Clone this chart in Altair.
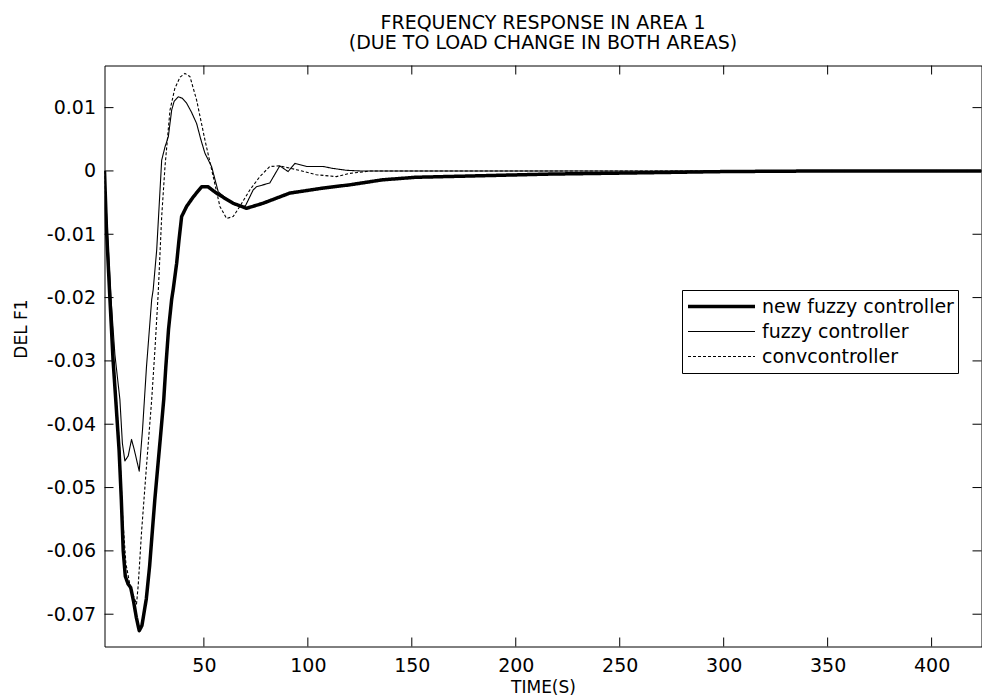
import altair as alt
import pandas as pd

# ---- data ----
series_names = ["new fuzzy controller", "fuzzy controller", "convcontroller"]

new_x = [2.2, 3.1, 4.7, 6.3, 7.6, 9.2, 10.3, 11.2, 12.2, 13.5, 14.8, 16.2, 17.5, 18.9,
         20.2, 22.3, 23.9, 26.4, 29.3, 30.7, 31.7, 33.0, 34.5, 35.2, 36.9, 38.0, 39.3,
         41.7, 44.9, 48.9, 52.0, 56.0, 64.0, 70.5, 78.5, 91.3, 107.4, 120.0, 136.0,
         152.0, 178.0, 216.0, 260.0, 300.0, 350.0, 424.0]
new_y = [0.0, -0.0088, -0.0195, -0.0298, -0.0361, -0.044, -0.052, -0.060, -0.064, -0.0652,
         -0.0658, -0.068, -0.0705, -0.0726, -0.0718, -0.0676, -0.0624, -0.0519, -0.0413,
         -0.0361, -0.0309, -0.025, -0.0203, -0.0188, -0.0146, -0.011, -0.0072, -0.0056,
         -0.0041, -0.0025, -0.0025, -0.0035, -0.0051, -0.0059, -0.0051, -0.0035, -0.0027,
         -0.0022, -0.0014, -0.0010, -0.0008, -0.0005, -0.0003, -0.0001, 0.0, 0.0]

fuzzy_x = [2.2, 3.5, 5.3, 7.2, 9.6, 10.8, 12.0, 13.6, 15.2, 16.5, 18.9, 20.5, 22.4, 24.9,
           25.6, 27.3, 29.7, 31.3, 32.9, 34.5, 35.7, 37.7, 39.5, 41.7, 44.0, 46.5, 48.5,
           50.5, 53.7, 56.9, 62.5, 68.1, 70.0, 73.7, 75.3, 81.7, 86.5, 90.5, 93.8, 99.4,
           107.4, 112.0, 118.6, 125.0, 424.0]
fuzzy_y = [0.0, -0.009, -0.020, -0.029, -0.0361, -0.043, -0.0458, -0.045, -0.0424, -0.044,
           -0.0474, -0.0408, -0.0309, -0.0203, -0.0188, -0.0125, 0.0017, 0.0038, 0.0054,
           0.0096, 0.0110, 0.0117, 0.0115, 0.0107, 0.0093, 0.0075, 0.0050, 0.0028, 0.0007,
           -0.0033, -0.0048, -0.0057, -0.0055, -0.0030, -0.0025, -0.0019, 0.0008, -0.0001,
           0.0012, 0.0007, 0.0007, 0.0004, 0.0001, 0.0, 0.0]

conv_x = [2.2, 3.2, 4.9, 6.6, 7.9, 9.5, 11.0, 12.5, 14.5, 16.0, 17.6, 18.4, 20.0, 22.4,
          24.9, 26.5, 28.0, 29.7, 31.3, 33.7, 36.0, 38.5, 40.9, 43.3, 46.5, 50.5, 54.5,
          57.7, 60.9, 64.1, 67.3, 72.1, 76.9, 81.7, 86.5, 94.5, 104.0, 113.7, 120.0,
          130.0, 424.0]
conv_y = [0.0, -0.009, -0.0195, -0.0298, -0.0361, -0.044, -0.055, -0.062, -0.0655, -0.067,
          -0.0684, -0.0655, -0.0571, -0.0466, -0.0361, -0.028, -0.0195, -0.0072, 0.0007,
          0.0096, 0.0130, 0.0148, 0.0154, 0.0149, 0.0112, 0.0049, -0.0009, -0.0056,
          -0.0075, -0.0072, -0.0056, -0.0030, -0.0009, 0.0007, 0.0008, 0.0002, -0.0006,
          -0.0009, -0.0004, 0.0, 0.0]

x_ticks = [50, 100, 150, 200, 250, 300, 350, 400]
y_ticks = [-0.07, -0.06, -0.05, -0.04, -0.03, -0.02, -0.01, 0.0, 0.01]

rows = []
for name, xs, ys in zip(series_names, [new_x, fuzzy_x, conv_x], [new_y, fuzzy_y, conv_y]):
    for i, (a, b) in enumerate(zip(xs, ys)):
        rows.append({"series": name, "t": a, "v": b, "order": i})
df = pd.DataFrame(rows)
df_xt = pd.DataFrame({"t": x_ticks})
df_yt = pd.DataFrame({"v": y_ticks})

FONT = "DejaVu Sans"
W, H = 877, 581

xscale = alt.Scale(domain=[2.2, 424], nice=False, zero=False)
yscale = alt.Scale(domain=[-0.0751, 0.01665], nice=False, zero=False)

x_axis = alt.Axis(values=x_ticks, title="TIME(S)", grid=False, ticks=False,
                  domain=False, labelFont=FONT, labelFontSize=19,
                  labelColor="black", labelPadding=10, titleFont=FONT,
                  titleFontSize=17, titleFontWeight="normal", titleColor="black",
                  titleBaseline="alphabetic", titleY=46)
y_axis = alt.Axis(values=y_ticks, title="DEL F1", grid=False, ticks=False,
                  domain=False, labelFont=FONT, labelFontSize=19,
                  labelColor="black", labelPadding=9,
                  labelExpr="datum.value == 0 ? '0' : (datum.value < 0 ? '-' : '') + format(abs(datum.value), '.2f')",
                  titleFont=FONT, titleFontSize=17, titleFontWeight="normal",
                  titleColor="black", titleAngle=270, titleBaseline="alphabetic",
                  titleX=-78, titleY=263)

leg = alt.Legend(
    orient="none", legendX=577.5, legendY=224.5,
    symbolType="stroke", symbolSize=4489, symbolStrokeColor="black",
    labelFont=FONT, labelFontSize=19, labelColor="black", labelOffset=5,
    labelLimit=400, padding=4, strokeColor="black", fillColor="white",
    clipHeight=25, rowPadding=0,
)

lines = alt.Chart(df).mark_line(clip=True, strokeJoin="round").encode(
    x=alt.X("t:Q", scale=xscale, axis=x_axis),
    y=alt.Y("v:Q", scale=yscale, axis=y_axis),
    order="order:Q",
    color=alt.Color("series:N", title=None,
                    scale=alt.Scale(domain=series_names, range=["black", "black", "black"]),
                    legend=leg),
    strokeDash=alt.StrokeDash("series:N", title=None,
                              scale=alt.Scale(domain=series_names,
                                              range=[[1, 0], [1, 0], [3, 2]]),
                              legend=leg),
    strokeWidth=alt.StrokeWidth("series:N", title=None,
                                scale=alt.Scale(type="ordinal", domain=series_names,
                                                range=[3.5, 1.1, 1.1]),
                                legend=leg),
)

tick_b = alt.Chart(df_xt).mark_rule(color="black").encode(
    x=alt.X("t:Q", scale=xscale, axis=x_axis), y=alt.value(H), y2=alt.value(H - 9))
tick_t = alt.Chart(df_xt).mark_rule(color="black").encode(
    x=alt.X("t:Q", scale=xscale, axis=x_axis), y=alt.value(0), y2=alt.value(9))
tick_l = alt.Chart(df_yt).mark_rule(color="black").encode(
    y=alt.Y("v:Q", scale=yscale, axis=y_axis), x=alt.value(0), x2=alt.value(9))
tick_r = alt.Chart(df_yt).mark_rule(color="black").encode(
    y=alt.Y("v:Q", scale=yscale, axis=y_axis), x=alt.value(W), x2=alt.value(W - 9))

chart = alt.layer(lines, tick_b, tick_t, tick_l, tick_r).properties(
    width=W, height=H,
    title=alt.TitleParams(
        ["FREQUENCY RESPONSE IN AREA 1", "(DUE TO LOAD CHANGE IN BOTH AREAS)"],
        font=FONT, fontSize=19, fontWeight="normal", color="black",
        anchor="middle", frame="group", offset=12, lineHeight=20),
    padding={"left": 104.5, "top": 65.5, "right": 0, "bottom": 52},
    autosize=alt.AutoSizeParams(type="none"),
    background="white",
).configure_view(stroke="black", strokeWidth=1)

chart.save("out.html", embed_options={"renderer": "svg", "actions": False})
